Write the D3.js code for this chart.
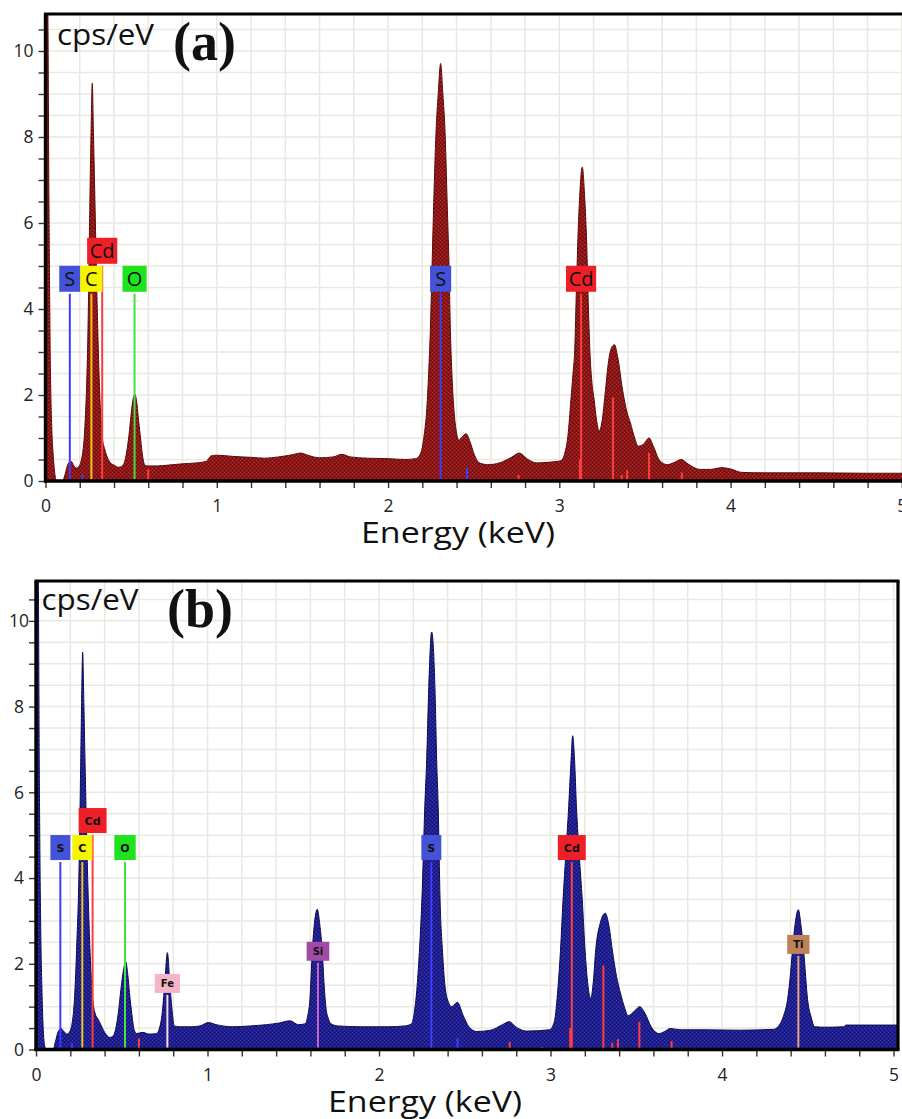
<!DOCTYPE html>
<html>
<head>
<meta charset="utf-8">
<script src="https://cdn.jsdelivr.net/npm/d3@7"></script>
<style>
  body { margin: 0; background: #ffffff; }
  svg { display: block; }
</style>
</head>
<body>
<script>
// ---------- EDS spectrum (a) ----------
const energyA = [0, 0.012, 0.02, 0.028, 0.036, 0.045, 0.055, 0.065, 0.1, 0.112, 0.125, 0.14, 0.152, 0.165, 0.18, 0.195, 0.207, 0.217, 0.226, 0.234, 0.24, 0.246, 0.251, 0.256, 0.261, 0.266, 0.273, 0.28, 0.287, 0.294, 0.301, 0.308, 0.316, 0.324, 0.332, 0.345, 0.36, 0.38, 0.4, 0.425, 0.445, 0.462, 0.475, 0.487, 0.5, 0.512, 0.522, 0.532, 0.545, 0.556, 0.568, 0.582, 0.6, 0.65, 0.72, 0.8, 0.88, 0.94, 0.965, 1.0, 1.1, 1.2, 1.28, 1.36, 1.44, 1.49, 1.53, 1.6, 1.68, 1.73, 1.78, 1.88, 2.0, 2.1, 2.16, 2.185, 2.2, 2.212, 2.225, 2.237, 2.247, 2.257, 2.267, 2.28, 2.293, 2.307, 2.32, 2.333, 2.345, 2.356, 2.364, 2.375, 2.388, 2.4, 2.412, 2.432, 2.456, 2.478, 2.503, 2.53, 2.58, 2.65, 2.72, 2.766, 2.81, 2.87, 2.95, 3.01, 3.03, 3.05, 3.068, 3.08, 3.09, 3.1, 3.11, 3.12, 3.134, 3.148, 3.16, 3.17, 3.18, 3.19, 3.203, 3.218, 3.232, 3.25, 3.27, 3.288, 3.305, 3.322, 3.34, 3.37, 3.395, 3.415, 3.44, 3.46, 3.49, 3.524, 3.55, 3.585, 3.63, 3.67, 3.712, 3.75, 3.82, 3.88, 3.95, 4.0, 4.065, 4.2, 4.5, 4.8, 5.03];
const countsA = [11.5, 11.5, 6.5, 2.8, 1.3, 0.6, 0.15, 0, 0, 0.12, 0.32, 0.44, 0.45, 0.36, 0.3, 0.34, 0.45, 0.65, 1.0, 1.6, 2.2, 3.1, 4.2, 5.6, 7.0, 8.1, 9.25, 8.1, 6.8, 5.5, 4.2, 3.1, 2.1, 1.4, 1.0, 0.75, 0.56, 0.42, 0.37, 0.32, 0.34, 0.45, 0.7, 1.05, 1.55, 1.92, 2.02, 1.85, 1.35, 0.95, 0.55, 0.36, 0.35, 0.35, 0.37, 0.4, 0.42, 0.46, 0.58, 0.6, 0.57, 0.55, 0.53, 0.56, 0.61, 0.65, 0.6, 0.54, 0.56, 0.62, 0.56, 0.53, 0.52, 0.5, 0.52, 0.6, 0.78, 1.1, 1.6, 2.5, 3.5, 5.0, 6.5, 8.1, 9.0, 9.71, 9.0, 8.1, 6.5, 5.0, 3.5, 2.3, 1.5, 1.12, 0.95, 1.02, 1.1, 0.92, 0.62, 0.43, 0.38, 0.42, 0.55, 0.65, 0.52, 0.42, 0.44, 0.47, 0.62, 1.04, 1.9, 2.5, 3.06, 4.5, 5.8, 6.7, 7.3, 6.6, 5.5, 4.0, 2.9, 2.3, 1.9, 1.4, 1.16, 1.4, 2.13, 2.8, 3.1, 3.17, 2.9, 2.1, 1.6, 1.35, 1.0, 0.81, 0.85, 1.0, 0.8, 0.48, 0.38, 0.43, 0.5, 0.4, 0.27, 0.27, 0.31, 0.28, 0.2, 0.19, 0.19, 0.18, 0.18];

const peakElementsA = ["S", "C", "Cd", "O", "S", "Cd"];
const peakEnergiesA = [0.142, 0.268, 0.331, 0.52, 2.307, 3.127];

const minorElementsA = ["S", "Cd", "S", "Cd", "Cd", "Cd", "Cd", "Cd", "Cd", "Cd", "Cd", "Cd"];
const minorEnergiesA = [0.216, 0.6, 2.461, 2.762, 2.95, 3.12, 3.313, 3.364, 3.396, 3.524, 3.715, 3.95];
const minorHeightsA = [0.15, 0.27, 0.3, 0.14, 0.05, 0.5, 1.94, 0.14, 0.26, 0.65, 0.2, 0.05];

// ---------- EDS spectrum (b) ----------
const energyB = [0, 0.012, 0.02, 0.027, 0.034, 0.043, 0.05, 0.058, 0.1, 0.113, 0.128, 0.146, 0.163, 0.18, 0.197, 0.21, 0.218, 0.226, 0.233, 0.24, 0.247, 0.254, 0.26, 0.266, 0.272, 0.279, 0.287, 0.295, 0.305, 0.312, 0.319, 0.33, 0.344, 0.36, 0.373, 0.4, 0.431, 0.452, 0.468, 0.48, 0.495, 0.51, 0.523, 0.535, 0.548, 0.558, 0.573, 0.587, 0.62, 0.66, 0.704, 0.72, 0.736, 0.75, 0.766, 0.781, 0.795, 0.806, 0.84, 0.9, 0.956, 1.005, 1.05, 1.15, 1.25, 1.345, 1.42, 1.48, 1.53, 1.57, 1.585, 1.597, 1.611, 1.625, 1.64, 1.655, 1.669, 1.68, 1.69, 1.705, 1.72, 1.76, 1.9, 2.05, 2.15, 2.19, 2.207, 2.222, 2.237, 2.25, 2.267, 2.278, 2.289, 2.307, 2.327, 2.336, 2.345, 2.356, 2.37, 2.385, 2.405, 2.423, 2.44, 2.457, 2.49, 2.524, 2.569, 2.65, 2.72, 2.759, 2.8, 2.86, 2.994, 3.022, 3.044, 3.058, 3.073, 3.09, 3.106, 3.12, 3.129, 3.14, 3.151, 3.168, 3.185, 3.2, 3.213, 3.234, 3.25, 3.263, 3.29, 3.319, 3.34, 3.361, 3.385, 3.408, 3.43, 3.453, 3.49, 3.52, 3.55, 3.587, 3.632, 3.665, 3.699, 3.755, 3.9, 4.1, 4.3, 4.326, 4.36, 4.382, 4.4, 4.416, 4.445, 4.46, 4.476, 4.499, 4.52, 4.54, 4.6, 4.715, 4.72, 5.026];
const countsB = [11.5, 11.5, 6, 3, 1.5, 0.4, 0.1, 0, 0, 0.18, 0.4, 0.49, 0.42, 0.36, 0.42, 0.6, 0.85, 1.3, 1.93, 2.7, 3.5, 4.9, 6.5, 8.1, 9.27, 8.1, 6.5, 5.0, 3.5, 2.6, 1.93, 1.2, 0.85, 0.72, 0.62, 0.4, 0.28, 0.33, 0.55, 0.85, 1.4, 1.85, 2.05, 1.75, 1.2, 0.85, 0.45, 0.37, 0.4, 0.36, 0.37, 0.5, 0.85, 1.5, 2.26, 1.5, 0.85, 0.55, 0.53, 0.53, 0.55, 0.63, 0.58, 0.53, 0.55, 0.58, 0.62, 0.67, 0.58, 0.6, 0.8, 1.16, 2.3, 3.0, 3.27, 2.9, 2.3, 1.5, 1.0, 0.72, 0.6, 0.55, 0.53, 0.53, 0.55, 0.6, 0.9, 1.47, 2.4, 3.49, 5.67, 6.76, 8.31, 9.74, 8.31, 6.76, 5.67, 3.49, 2.3, 1.47, 1.1, 1.0, 1.05, 1.1, 0.8, 0.53, 0.42, 0.45, 0.58, 0.65, 0.52, 0.43, 0.46, 0.65, 1.47, 2.3, 3.49, 4.6, 5.67, 6.76, 7.32, 6.76, 5.67, 4.5, 3.49, 2.4, 1.7, 1.19, 1.6, 2.3, 2.95, 3.18, 2.9, 2.3, 1.7, 1.31, 1.0, 0.79, 0.9, 1.0, 0.85, 0.53, 0.37, 0.42, 0.49, 0.46, 0.46, 0.45, 0.47, 0.53, 0.8, 1.16, 1.8, 2.56, 3.26, 2.9, 2.3, 1.16, 0.75, 0.53, 0.52, 0.53, 0.57, 0.57];

const peakElementsB = ["S", "C", "Cd", "O", "Fe", "Si", "S", "Cd", "Ti"];
const peakEnergiesB = [0.142, 0.27, 0.33, 0.519, 0.766, 1.644, 2.305, 3.124, 4.445];

const minorElementsB = ["S", "Cd", "S", "Cd", "Cd", "Cd", "Cd", "Cd", "Cd", "Cd", "Cd"];
const minorEnergiesB = [0.21, 0.6, 2.458, 2.762, 2.95, 3.115, 3.308, 3.36, 3.393, 3.518, 3.706];
const minorHeightsB = [0.15, 0.26, 0.27, 0.18, 0.05, 0.5, 1.96, 0.16, 0.24, 0.65, 0.2];

// ---------- shared axis ticks ----------
const xTickValues = d3.range(0, 26).map(i => i / 5);   // every 0.2 keV
const yTickValues = d3.range(0, 22).map(i => i / 2);   // every 0.5 cps/eV
const xGridValues = d3.range(1, 26).map(i => i / 5);
const yGridValues = d3.range(1, 22).map(i => i / 2);

// colours of the element tags and their marker lines
const elementStyle = {
  S:  { box: "#4352d6", line: "#3c3cff" },
  C:  { box: "#f5f500", line: "#f0c41c" },
  Cd: { box: "#ee1f27", line: "#ff3c3c" },
  O:  { box: "#1fe31f", line: "#3fe43f" },
  Fe: { box: "#f6b4c7", line: "#f8dce7" },
  Si: { box: "#a04ba5", line: "#c766ca" },
  Ti: { box: "#bf8157", line: "#e8a67b" }
};

const W = 902, H = 1119;
const svg = d3.select("body").append("svg")
  .attr("width", W).attr("height", H)
  .attr("viewBox", `0 0 ${W} ${H}`);
const defs = svg.append("defs");

// speckled fill textures for the spectra
function makeTexture(id, base, light, dark) {
  const p = defs.append("pattern").attr("id", id)
    .attr("width", 4).attr("height", 4).attr("patternUnits", "userSpaceOnUse");
  p.append("rect").attr("width", 4).attr("height", 4).attr("fill", base);
  [[0, 0], [2, 2]].forEach(([x, y]) => p.append("rect").attr("x", x).attr("y", y).attr("width", 1).attr("height", 1).attr("fill", light));
  [[2, 0], [0, 2]].forEach(([x, y]) => p.append("rect").attr("x", x).attr("y", y).attr("width", 1).attr("height", 1).attr("fill", dark));
}
makeTexture("texA", "#8c1616", "#ad3232", "#640a0a");
makeTexture("texB", "#1e1e8e", "#3a3ab4", "#111168");

const panels = [
  {
    key: "A", energy: energyA, counts: countsA,
    peakEls: peakElementsA, peakEs: peakEnergiesA,
    minorEls: minorElementsA, minorEs: minorEnergiesA, minorHs: minorHeightsA,
    xDomain: [0, 5.03], xRange: [45.5, 907],
    yDomain: [0, 10.86], yRange: [481, 14],
    fill: "url(#texA)", edge: "#5e0909",
    rightBorder: false,
    yLabelAnchor: "end", yLabelDx: -12,
    tagFont: "20px 'Open Sans'", tagH: 26, tagPad: (t) => 14 + 0.65 * t,
    tagBase: {}, rowBase: 4.4,
    letter: "(a)", letterX: 173, letterY: 60,
    cpsX: 57, cpsY: 45,
    titleX: 458, titleY: 543
  },
  {
    key: "B", energy: energyB, counts: countsB,
    peakEls: peakElementsB, peakEs: peakEnergiesB,
    minorEls: minorElementsB, minorEs: minorEnergiesB, minorHs: minorHeightsB,
    xDomain: [0, 5.026], xRange: [36, 898],
    yDomain: [0, 10.93], yRange: [1049.5, 581],
    fill: "url(#texB)", edge: "#0c0c55",
    rightBorder: true,
    yLabelAnchor: "middle", yLabelDx: -17,
    tagFont: "bold 11px 'DejaVu Sans'", tagH: 25, tagPad: (t) => t + 12,
    // tags that sit lower, next to their smaller peaks (cps/eV at tag bottom)
    tagBase: { Fe: 1.32, Si: 2.07, Ti: 2.23 }, smallTags: ["Fe", "Si", "Ti"],
    rowBase: 4.42,
    letter: "(b)", letterX: 167, letterY: 627,
    cpsX: 41.5, cpsY: 610,
    titleX: 425, titleY: 1112
  }
];

panels.forEach(drawPanel);

function drawPanel(p) {
  const x = d3.scaleLinear().domain(p.xDomain).range(p.xRange);
  const y = d3.scaleLinear().domain(p.yDomain).range(p.yRange);
  const [left, right] = p.xRange;
  const [bottom, top] = p.yRange;
  const g = svg.append("g").attr("class", "panel-" + p.key);

  defs.append("clipPath").attr("id", "clip" + p.key)
    .append("rect").attr("x", left).attr("y", top)
    .attr("width", right - left).attr("height", bottom - top);

  // grid
  const grid = g.append("g").attr("stroke", "#e9e9e1").attr("stroke-width", 1.5);
  grid.selectAll("line.v").data(xGridValues).join("line").attr("class", "v")
    .attr("x1", d => x(d)).attr("x2", d => x(d)).attr("y1", top).attr("y2", bottom);
  grid.selectAll("line.h").data(yGridValues).join("line").attr("class", "h")
    .attr("x1", left).attr("x2", right).attr("y1", d => y(d)).attr("y2", d => y(d));

  // spectrum
  const pts = p.energy.map((e, i) => [e, p.counts[i]]);
  const area = d3.area().x(d => x(d[0])).y0(y(0)).y1(d => y(d[1])).curve(d3.curveMonotoneX);
  const line = d3.line().x(d => x(d[0])).y(d => y(d[1])).curve(d3.curveMonotoneX);
  const spec = g.append("g").attr("clip-path", `url(#clip${p.key})`);
  spec.append("path").datum(pts).attr("d", area).attr("fill", p.fill);
  spec.append("path").datum(pts).attr("d", line).attr("fill", "none")
    .attr("stroke", p.edge).attr("stroke-width", 1);

  // minor element lines
  spec.selectAll("line.minor").data(p.minorEs).join("line").attr("class", "minor")
    .attr("x1", d => x(d)).attr("x2", d => x(d))
    .attr("y1", (d, i) => y(p.minorHs[i])).attr("y2", y(0))
    .attr("stroke", (d, i) => elementStyle[p.minorEls[i]].line)
    .attr("stroke-width", 2);

  // axes ticks
  const yAxis = d3.axisLeft(y).tickValues(yTickValues).tickSize(7)
    .tickFormat(d => (d % 2 === 0 ? d : ""));
  const yg = g.append("g").attr("transform", `translate(${left},0)`).call(yAxis);
  yg.select(".domain").remove();
  yg.selectAll(".tick line").attr("stroke", "#333").attr("stroke-width", 1.4);
  yg.selectAll(".tick text")
    .attr("x", p.yLabelDx).attr("dy", "0.34em")
    .attr("text-anchor", p.yLabelAnchor)
    .style("font", "17.5px 'Open Sans'").attr("fill", "#222");

  const xAxis = d3.axisBottom(x).tickValues(xTickValues).tickSize(7)
    .tickFormat(d => (Math.abs(d - Math.round(d)) < 1e-9 ? Math.round(d) : ""));
  const xg = g.append("g").attr("transform", `translate(0,${bottom})`).call(xAxis);
  xg.select(".domain").remove();
  xg.selectAll(".tick line").attr("stroke", "#333").attr("stroke-width", 1.4);
  xg.selectAll(".tick text").attr("y", 31).attr("dy", 0)
    .style("font", "17.5px 'Open Sans'").attr("fill", "#222");

  // frame
  const frame = g.append("g").attr("stroke", "#000");
  frame.append("line").attr("x1", left - 1.5).attr("x2", right + 1.5).attr("y1", top).attr("y2", top).attr("stroke-width", 3.2);
  frame.append("line").attr("x1", left).attr("x2", left).attr("y1", top).attr("y2", bottom + 1.5).attr("stroke-width", 3.4);
  frame.append("line").attr("x1", left - 1.5).attr("x2", right + 1.5).attr("y1", bottom).attr("y2", bottom).attr("stroke-width", 3.6);
  if (p.rightBorder) {
    frame.append("line").attr("x1", right).attr("x2", right).attr("y1", top).attr("y2", bottom).attr("stroke-width", 3.2);
  }

  // element tags with their marker lines
  const small = p.smallTags || [];
  const placed = [];
  const markerLayer = g.append("g");
  const tagLayer = g.append("g");
  p.peakEs.forEach((e, i) => {
    const el = p.peakEls[i];
    const st = elementStyle[el];
    const cx = x(e);
    const isSmall = small.includes(el);
    const h = isSmall ? 19 : p.tagH;
    const tg = tagLayer.append("g");
    const txt = tg.append("text").text(el)
      .style("font", isSmall ? "bold 10px 'DejaVu Sans'" : p.tagFont)
      .attr("text-anchor", "middle").attr("fill", "#111");
    const tw = txt.node().getComputedTextLength();
    const w = p.tagPad(tw);
    let bottomY;
    if (isSmall && p.tagBase[el] !== undefined) {
      bottomY = y(p.tagBase[el]);
    } else {
      // stack upward when a tag collides with one already placed
      let row = 0;
      while (placed.some(b => b.row === row && cx - w / 2 < b.x1 - 3 && cx + w / 2 > b.x0 + 3)) row++;
      placed.push({ row, x0: cx - w / 2, x1: cx + w / 2 });
      bottomY = y(p.rowBase) - row * (h + 2);
    }
    // marker line from just under the tag down to the baseline
    markerLayer.append("line")
      .attr("x1", cx).attr("x2", cx).attr("y1", bottomY + 2).attr("y2", bottom - 2)
      .attr("stroke", st.line).attr("stroke-width", 2);
    tg.insert("rect", "text")
      .attr("x", cx - w / 2).attr("y", bottomY - h).attr("width", w).attr("height", h)
      .attr("fill", st.box);
    txt.attr("x", cx).attr("y", bottomY - h / 2).attr("dy", "0.36em");
  });

  // captions
  g.append("text").text("cps/eV").attr("x", p.cpsX).attr("y", p.cpsY)
    .attr("textLength", 97).attr("lengthAdjust", "spacingAndGlyphs")
    .style("font", "29px 'Open Sans'").attr("fill", "#111");
  g.append("text").text(p.letter).attr("x", p.letterX).attr("y", p.letterY)
    .style("font", "bold 54px 'Liberation Serif'").attr("fill", "#111");
  g.append("text").text("Energy (keV)").attr("x", p.titleX).attr("y", p.titleY)
    .attr("text-anchor", "middle")
    .attr("textLength", 194).attr("lengthAdjust", "spacingAndGlyphs")
    .style("font", "30px 'Open Sans'").attr("fill", "#111");
}
</script>
</body>
</html>
